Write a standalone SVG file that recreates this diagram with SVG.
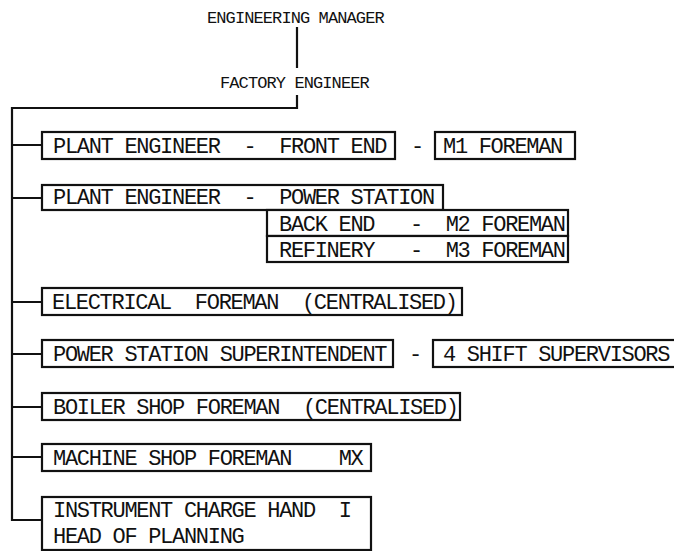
<svg xmlns="http://www.w3.org/2000/svg" width="674" height="551" viewBox="0 0 674 551">
<style>
text{font-family:"Liberation Mono","DejaVu Sans Mono",monospace;fill:#111;white-space:pre}
.t{font-size:17px;letter-spacing:-0.9px}
.b{font-size:22px;letter-spacing:-1.3px}
.box{fill:#fff;stroke:#111;stroke-width:2.2}
.ln{fill:none;stroke:#111;stroke-width:2.2}
</style>
<rect width="674" height="551" fill="#fff"/>
<g id="connectors">
<path class="ln" d="M297 27V68M297 95V108H12V520H42"/>
<path class="ln" d="M12 145H42M12 198H42M12 302H42M12 354H42M12 407H42M12 457H42"/>
</g>
<g id="engineering-manager"><text class="t" x="207" y="23">ENGINEERING MANAGER</text></g>
<g id="factory-engineer"><text class="t" x="220" y="88">FACTORY ENGINEER</text></g>
<g id="plant-front-end">
<rect class="box" x="42" y="132" width="353" height="27"/>
<text class="b" x="53" y="153" xml:space="preserve">PLANT ENGINEER  -  FRONT END</text>
<text class="b" x="417" y="153" text-anchor="middle">-</text>
</g>
<g id="m1-foreman">
<rect class="box" x="435" y="132" width="140" height="27"/>
<text class="b" x="443" y="153">M1 FOREMAN</text>
</g>
<g id="plant-power-station">
<rect class="box" x="42" y="185" width="401" height="25"/>
<text class="b" x="53" y="204" xml:space="preserve">PLANT ENGINEER  -  POWER STATION</text>
</g>
<g id="back-end">
<rect class="box" x="267" y="210" width="301" height="26"/>
<text class="b" x="279" y="231" xml:space="preserve">BACK END   -  M2 FOREMAN</text>
</g>
<g id="refinery">
<rect class="box" x="267" y="236" width="301" height="26"/>
<text class="b" x="279" y="257" xml:space="preserve">REFINERY   -  M3 FOREMAN</text>
</g>
<g id="electrical-foreman">
<rect class="box" x="42" y="288" width="420" height="27"/>
<text class="b" x="52" y="309" xml:space="preserve">ELECTRICAL  FOREMAN  (CENTRALISED)</text>
</g>
<g id="power-station-superintendent">
<rect class="box" x="42" y="340" width="351" height="27"/>
<text class="b" x="53" y="361">POWER STATION SUPERINTENDENT</text>
<text class="b" x="415" y="361" text-anchor="middle">-</text>
</g>
<g id="shift-supervisors">
<rect class="box" x="433" y="340" width="260" height="27"/>
<text class="b" x="443" y="361">4 SHIFT SUPERVISORS</text>
</g>
<g id="boiler-shop-foreman">
<rect class="box" x="42" y="393" width="418" height="27"/>
<text class="b" x="53" y="414" xml:space="preserve">BOILER SHOP FOREMAN  (CENTRALISED)</text>
</g>
<g id="machine-shop-foreman">
<rect class="box" x="42" y="444" width="329" height="27"/>
<text class="b" x="53" y="465" xml:space="preserve">MACHINE SHOP FOREMAN    MX</text>
</g>
<g id="instrument-charge-hand">
<rect class="box" x="42" y="497" width="329" height="53"/>
<text class="b" x="53" y="517" xml:space="preserve">INSTRUMENT CHARGE HAND  I</text>
<text class="b" x="53" y="543">HEAD OF PLANNING</text>
</g>
</svg>
